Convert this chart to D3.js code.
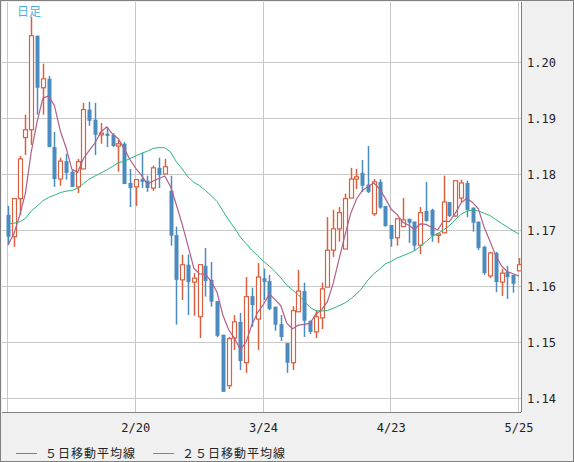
<!DOCTYPE html>
<html><head><meta charset="utf-8">
<script src="https://cdn.jsdelivr.net/npm/d3@7/dist/d3.min.js"></script>
<style>body{margin:0;background:#f0f0f0}svg{display:block}</style>
</head><body><svg id="c" width="574" height="462"></svg>
<script>
const opens  = [1.1727,1.1688,1.1756,1.1865,1.1879,1.2047,1.1954,1.1970,1.1848,1.1791,1.1823,1.1804,1.1777,1.1809,1.1915,1.1897,1.1870,1.1872,1.1870,1.1850,1.1854,1.1784,1.1777,1.1791,1.1788,1.1775,1.1811,1.1800,1.1770,1.1691,1.1611,1.1638,1.1607,1.1545,1.1636,1.1611,1.1573,1.1513,1.1422,1.1507,1.1536,1.1463,1.1582,1.1541,1.1614,1.1609,1.1563,1.1532,1.1498,1.1463,1.1554,1.1591,1.1538,1.1518,1.1543,1.1598,1.1664,1.1702,1.1666,1.1757,1.1791,1.1802,1.1781,1.1729,1.1786,1.1743,1.1709,1.1686,1.1706,1.1720,1.1715,1.1673,1.1734,1.1736,1.1691,1.1695,1.1750,1.1725,1.1757,1.1784,1.1740,1.1715,1.1670,1.1618,1.1659,1.1607,1.1625,1.1620,1.1627];
const highs  = [1.1743,1.1756,1.1832,1.1906,1.2081,1.2047,1.1997,1.1975,1.1875,1.1829,1.1836,1.1807,1.1827,1.1927,1.1929,1.1927,1.1891,1.1884,1.1873,1.1861,1.1857,1.1809,1.1790,1.1838,1.1797,1.1815,1.1829,1.1827,1.1797,1.1706,1.1656,1.1656,1.1623,1.1638,1.1668,1.1643,1.1573,1.1513,1.1509,1.1548,1.1552,1.1616,1.1597,1.1641,1.1631,1.1620,1.1563,1.1548,1.1498,1.1564,1.1629,1.1606,1.1538,1.1557,1.1606,1.1723,1.1736,1.1741,1.1765,1.1811,1.1809,1.1825,1.1850,1.1791,1.1791,1.1743,1.1709,1.1720,1.1757,1.1720,1.1715,1.1741,1.1786,1.1738,1.1693,1.1797,1.1750,1.1788,1.1790,1.1788,1.1740,1.1715,1.1672,1.1661,1.1661,1.1631,1.1636,1.1620,1.1650];
const lows   = [1.1673,1.1670,1.1727,1.1834,1.1852,1.1906,1.1906,1.1848,1.1777,1.1779,1.1790,1.1777,1.1766,1.1809,1.1886,1.1834,1.1854,1.1848,1.1848,1.1804,1.1782,1.1741,1.1743,1.1775,1.1768,1.1770,1.1775,1.1800,1.1672,1.1531,1.1575,1.1548,1.1547,1.1507,1.1581,1.1563,1.1509,1.1411,1.1416,1.1486,1.1450,1.1445,1.1527,1.1486,1.1575,1.1557,1.1520,1.1502,1.1445,1.1450,1.1554,1.1509,1.1514,1.1507,1.1523,1.1598,1.1652,1.1679,1.1666,1.1757,1.1773,1.1768,1.1766,1.1725,1.1738,1.1706,1.1670,1.1672,1.1706,1.1677,1.1663,1.1657,1.1715,1.1679,1.1677,1.1695,1.1723,1.1723,1.1750,1.1723,1.1697,1.1664,1.1620,1.1614,1.1589,1.1582,1.1577,1.1588,1.1627];
const closes = [1.1688,1.1756,1.1827,1.1879,1.2047,1.1954,1.1970,1.1848,1.1791,1.1823,1.1802,1.1777,1.1822,1.1915,1.1895,1.1870,1.1873,1.1868,1.1850,1.1854,1.1782,1.1775,1.1790,1.1786,1.1775,1.1811,1.1798,1.1813,1.1690,1.1611,1.1638,1.1607,1.1614,1.1638,1.1609,1.1572,1.1511,1.1411,1.1506,1.1536,1.1466,1.1581,1.1566,1.1616,1.1607,1.1559,1.1531,1.1509,1.1463,1.1556,1.1591,1.1538,1.1518,1.1545,1.1595,1.1664,1.1702,1.1731,1.1756,1.1791,1.1795,1.1779,1.1768,1.1786,1.1740,1.1707,1.1684,1.1720,1.1718,1.1713,1.1672,1.1731,1.1716,1.1690,1.1693,1.1750,1.1725,1.1788,1.1784,1.1736,1.1713,1.1668,1.1623,1.1659,1.1607,1.1623,1.1616,1.1604,1.1638];
// estimated closes before the visible window (needed for the moving averages)
const priorCloses = [1.1745,1.1760,1.1730,1.1715,1.1740,1.1725,1.1700,1.1690,1.1710,1.1735,1.1750,1.1720,1.1705,1.1695,1.1730,1.1745,1.1725,1.1700,1.1690,1.1710,1.1660,1.1665,1.1675,1.1680];
const tickIdx = [0,22,44,66,88];
const tickLabels = ["","2/20","3/24","4/23","5/25"];
const yTicks = [1.14,1.15,1.16,1.17,1.18,1.19,1.20];
const legendLabels = ["５日移動平均線","２５日移動平均線"];

const svg = d3.select("#c");
const W=574,H=462, L=2, R=521, T=2, B=412;
svg.append("rect").attr("x",0.5).attr("y",0.5).attr("width",W-1).attr("height",H-1).attr("fill","#f0f0f0").attr("stroke","#808080");
svg.append("rect").attr("x",L).attr("y",T).attr("width",R-L).attr("height",B-T).attr("fill","#fff");
const x = d3.scaleLinear().domain([0,88]).range([8,519]);
const y = d3.scaleLinear().domain([1.14,1.20]).range([398,62]);
const clip = svg.append("clipPath").attr("id","pc").append("rect").attr("x",L).attr("y",T).attr("width",R-L).attr("height",B-T);
const g = svg.append("g").attr("clip-path","url(#pc)");
g.selectAll(".hg").data(yTicks).join("line").attr("x1",L).attr("x2",R)
 .attr("y1",d=>Math.round(y(d))+0.5).attr("y2",d=>Math.round(y(d))+0.5).attr("stroke","#c8c8c8");
g.selectAll(".vg").data(tickIdx).join("line").attr("y1",T).attr("y2",B)
 .attr("x1",d=>Math.round(x(d))-0.5).attr("x2",d=>Math.round(x(d))-0.5).attr("stroke","#c8c8c8");

const all = priorCloses.concat(closes);
function ma(n){ return closes.map((c,i)=>{const j=i+priorCloses.length; return d3.mean(all.slice(j-n+1,j+1));}); }
const ma5 = ma(5), ma25 = ma(25);
const line = d3.line().x((d,i)=>x(i)).y(d=>y(d));
const up="#d9603f", dn="#4b8bc0";
const cg = g.selectAll(".cd").data(closes).join("g");
cg.append("line").attr("x1",(d,i)=>Math.round(x(i))+0.5).attr("x2",(d,i)=>Math.round(x(i))+0.5)
 .attr("y1",(d,i)=>y(highs[i])).attr("y2",(d,i)=>y(lows[i]))
 .attr("stroke",(d,i)=>closes[i]>=opens[i]?up:dn).attr("stroke-width",1.5);
cg.append("rect").attr("x",(d,i)=>Math.round(x(i))-1.5)
 .attr("width",4)
 .attr("y",(d,i)=>y(Math.max(opens[i],closes[i])))
 .attr("height",(d,i)=>Math.max(1.5,Math.abs(y(opens[i])-y(closes[i]))))
 .attr("fill",(d,i)=>closes[i]>=opens[i]?"#fff":dn)
 .attr("stroke",(d,i)=>closes[i]>=opens[i]?up:"none").attr("stroke-width",1.2);
g.append("path").datum(ma25).attr("d",line).attr("fill","none").attr("stroke","#2db57a").attr("stroke-width",1);
g.append("path").datum(ma5).attr("d",line).attr("fill","none").attr("stroke","#b0608a").attr("stroke-width",1.2);

svg.append("line").attr("x1",R+0.5).attr("x2",R+0.5).attr("y1",T).attr("y2",B).attr("stroke","#808080");
svg.append("line").attr("x1",L).attr("x2",R).attr("y1",B+0.5).attr("y2",B+0.5).attr("stroke","#808080");

svg.selectAll(".yl").data(yTicks).join("text").attr("x",527).attr("y",d=>y(d)+4.5)
 .attr("font-family","DejaVu Sans Mono").attr("font-size",12).attr("fill","#222").text(d=>d.toFixed(2));
svg.selectAll(".xl").data(tickIdx).join("text").attr("x",d=>x(d)).attr("y",432).attr("text-anchor","middle")
 .attr("font-family","DejaVu Sans Mono").attr("font-size",12).attr("fill","#222").text((d,i)=>tickLabels[i]);
svg.append("text").attr("x",17).attr("y",16).attr("font-family","Noto Sans CJK JP").attr("font-size",12).attr("fill","#4ab0e0").text("日足");
const lg=[{x:16,c:"#b0608a"},{x:153,c:"#2db57a"}];
lg.forEach((o,i)=>{
 svg.append("line").attr("x1",o.x).attr("x2",o.x+21).attr("y1",453.5).attr("y2",453.5).attr("stroke",o.c);
 svg.append("text").attr("x",o.x+29).attr("y",458).attr("font-family","Noto Sans CJK JP").attr("font-size",12)
  .attr("letter-spacing",1).attr("fill","#222").text(legendLabels[i]);
});
</script></body></html>
